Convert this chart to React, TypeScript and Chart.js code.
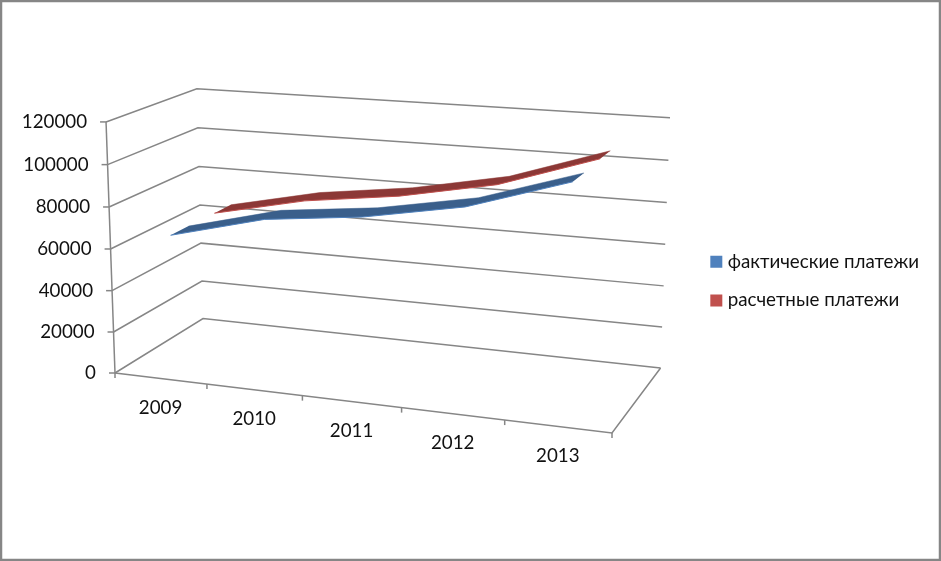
import React, { useEffect, useRef } from "react";
import { Chart, registerables } from "chart.js";

Chart.register(...registerables);

const years = ["2009", "2010", "2011", "2012", "2013"];
const actualPayments = [65200, 76700, 81700, 90100, 104900];
const estimatedPayments = [65100, 75000, 81000, 90100, 105600];
const valueTicksStep = 20000;
const valueMax = 120000;

const GRID = "#868686";
const TEXT = "#111111";
const FONT = "Lato, 'Open Sans', sans-serif";
const FONT_SIZE = 18.75;

// Perspective camera of the 3-D box: u along years, v along values, w along depth (all 0..1).
function project(u: number, v: number, w: number): [number, number] {
  const d = 1 - 0.092 * u - 0.024 * v + 0.096 * w;
  const x = 115 + 440.7 * u - 11.5 * v + 107.5 * w + 4.9 * u * v;
  const y = 373 + 20.2 * u - 254 * v - 23.8 * w;
  return [x / d, y / d];
}

const unitX = (c: any, px: number) => (px - c.scales.x.left) / c.scales.x.width;
const unitY = (c: any, px: number) => (c.scales.y.bottom - px) / c.scales.y.height;

const projection3D = {
  id: "projection3D",
  beforeDraw(chart: any) {
    const { ctx, width, height } = chart;
    ctx.save();
    ctx.fillStyle = "#ffffff";
    ctx.fillRect(0, 0, width, height);
    ctx.strokeStyle = GRID;
    ctx.lineWidth = 2.5;
    ctx.strokeRect(1, 1, width - 2, height - 2);
    ctx.restore();
  },
  afterDatasetsUpdate(chart: any) {
    chart.data.datasets.forEach((ds: any, i: number) => {
      const meta = chart.getDatasetMeta(i);
      meta.data.forEach((pt: any, k: number) => {
        const u = unitX(chart, chart.scales.x.getPixelForValue(k));
        const v = unitY(chart, chart.scales.y.getPixelForValue(ds.data[k]));
        const [x, y] = project(u, v, ds.depth);
        pt.x = x;
        pt.y = y;
      });
    });
  },
  beforeDatasetsDraw(chart: any) {
    const { ctx } = chart;
    const yScale = chart.scales.y;
    const xScale = chart.scales.x;
    const line = (pts: [number, number][]) => {
      ctx.beginPath();
      pts.forEach(([x, y], i) => (i ? ctx.lineTo(x, y) : ctx.moveTo(x, y)));
      ctx.stroke();
    };
    ctx.save();
    ctx.strokeStyle = GRID;
    ctx.lineWidth = 1.5;
    ctx.fillStyle = TEXT;
    ctx.font = `${FONT_SIZE}px ${FONT}`;

    // value gridlines across the side wall and back wall, with ticks and labels
    yScale.ticks.forEach((t: any) => {
      const v = unitY(chart, yScale.getPixelForValue(t.value));
      line([project(0, v, 0), project(0, v, 1), project(1, v, 1)]);
      const [x, y] = project(0, v, 0);
      line([[x - 6, y], [x, y]]);
      ctx.textAlign = "right";
      ctx.textBaseline = "middle";
      ctx.fillText(String(t.value), x - 19, y);
    });
    line([project(0, 0, 0), project(0, 1, 0)]);

    // floor and category ticks
    line([project(0, 0, 0), project(1, 0, 0), project(1, 0, 1)]);
    const n = years.length;
    for (let i = 0; i <= n; i++) {
      const [x, y] = project(i / n, 0, 0);
      line([[x, y], [x, y + 5]]);
    }
    years.forEach((label, k) => {
      const u = unitX(chart, xScale.getPixelForValue(k));
      const [x, y] = project(u, 0, 0);
      ctx.textAlign = "center";
      ctx.textBaseline = "middle";
      ctx.fillText(label, x, y + 29);
    });

    // ribbon surfaces between the front and back edge of each series
    chart.data.datasets.forEach((ds: any, i: number) => {
      if (!ds.surface) return;
      const front = chart.getDatasetMeta(i).data;
      const back = chart.getDatasetMeta(i + 1).data;
      ctx.beginPath();
      front.forEach((p: any, k: number) => (k ? ctx.lineTo(p.x, p.y) : ctx.moveTo(p.x, p.y)));
      [...back].reverse().forEach((p: any) => ctx.lineTo(p.x, p.y));
      ctx.closePath();
      ctx.fillStyle = ds.surface;
      ctx.fill();
    });
    ctx.restore();
  },
};

function ribbon(label: string, values: number[], light: string, dark: string, near: number, far: number) {
  const common = { data: values, pointRadius: 0, tension: 0, clip: false as const };
  return [
    { ...common, label, depth: near, surface: dark, borderColor: light, backgroundColor: light, borderWidth: 1 },
    { ...common, label: label + " (back)", depth: far, borderColor: dark, backgroundColor: dark, borderWidth: 0.5 },
  ];
}

export default function App() {
  const ref = useRef<HTMLCanvasElement>(null);
  useEffect(() => {
    document.body.style.margin = "0";
    const chart = new Chart(ref.current as HTMLCanvasElement, {
      type: "line",
      data: {
        labels: years,
        datasets: [
          ...ribbon("фактические платежи", actualPayments, "#4F81BD", "#3A5F8B", 0.15, 0.35),
          ...ribbon("расчетные платежи", estimatedPayments, "#C0504D", "#8C3836", 0.65, 0.85),
        ] as any,
      },
      options: {
        responsive: false,
        animation: false,
        layout: { padding: { right: 12, left: 0, top: 1, bottom: 0 } },
        scales: {
          x: { type: "category", display: false, offset: true },
          y: { type: "linear", display: false, min: 0, max: valueMax, ticks: { stepSize: valueTicksStep } },
        },
        plugins: {
          title: { display: false },
          tooltip: { enabled: false },
          legend: {
            position: "right",
            labels: {
              color: TEXT,
              font: { family: FONT, size: FONT_SIZE, lineHeight: 1 },
              usePointStyle: true,
              pointStyle: "rect",
              boxWidth: 4,
              boxHeight: 12,
              padding: 20,
              filter: (item: any) => item.datasetIndex % 2 === 0,
              generateLabels: (c: any) =>
                Chart.defaults.plugins.legend.labels.generateLabels(c).map((l: any) => ({ ...l, lineWidth: 0 })),
            },
          },
        },
      } as any,
      plugins: [projection3D],
    });
    return () => chart.destroy();
  }, []);
  return (
    <canvas
      ref={ref}
      width={941}
      height={561}
      style={{ display: "block", position: "absolute", left: 0, top: 0, width: 941, height: 561 }}
    />
  );
}
